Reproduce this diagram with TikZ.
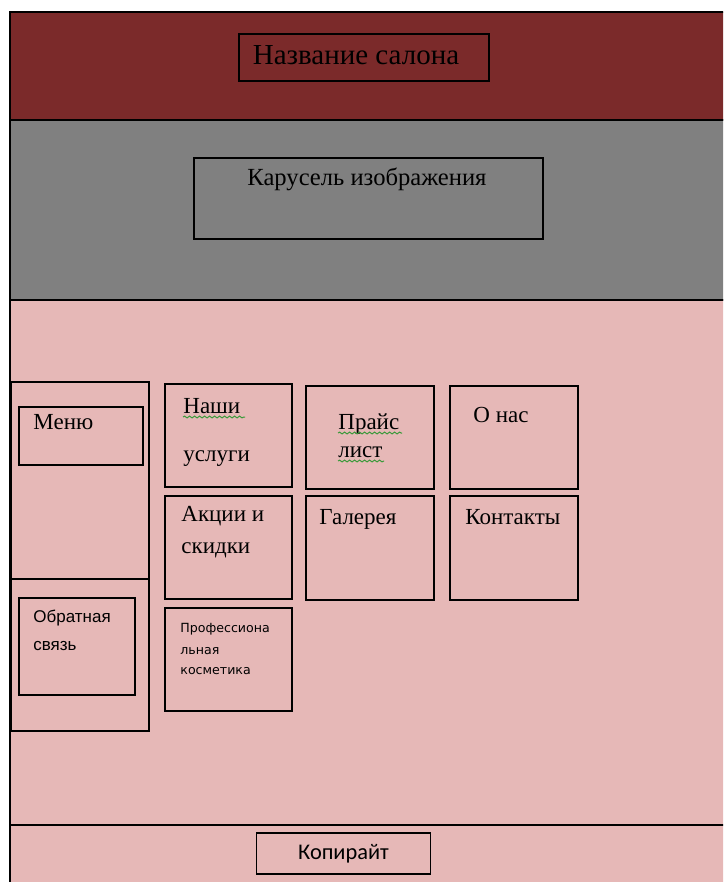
\documentclass[tikz,border=0pt]{standalone}
\usepackage{fontspec}
\setmainfont{Liberation Serif}
\newfontfamily\plainsans{Liberation Sans}
\newfontfamily\footsans{Carlito}
\newfontfamily\tinysans{DejaVu Sans}
\usepackage{tikz}
\usetikzlibrary{positioning,decorations.pathmorphing}
\definecolor{header}{HTML}{7B2A2A}
\definecolor{carousel}{HTML}{808080}
\definecolor{page}{HTML}{E6B8B7}
\definecolor{spell}{HTML}{3A9A3A}

\begin{document}
\begin{tikzpicture}[
    x=0.5pt, y=-0.5pt,
    font=\fontsize{11.5}{13}\selectfont,
    box/.style={draw, line width=0.9pt, minimum width=63.5pt, minimum height=51.5pt, anchor=north west, inner sep=0pt},
    txt/.style={anchor=base west, inner sep=0pt},
    band/.style={draw, line width=0.8pt},
    squiggle/.style={spell, line width=0.5pt, decorate, decoration={snake, amplitude=0.45pt, segment length=2.5pt}}
]
    \useasboundingbox (0,0) rectangle (723,882);
    \clip (0,0) rectangle (723,882);

    % Bands
    \fill[white] (0,0) rectangle (723,882);
    \draw[band, fill=page] (10,300) rectangle (740,900);
    \draw[band, fill=header] (10,12) rectangle (740,120);
    \draw[band, fill=carousel] (10,120) rectangle (740,300);
    \draw[band] (10,825) -- (740,825);

    % Header
    \node[box, minimum width=125pt, minimum height=23.5pt] (title) at (238,33) {};
    \node[txt, anchor=base, font=\fontsize{14.5}{16}\selectfont] (titletext) at (356,65) {Название салона};
    \node[box, minimum width=174.5pt, minimum height=40.5pt] (slider) at (193,157) {};
    \node[txt, anchor=base, font=\fontsize{12.3}{15}\selectfont] (slidertext) at (367,185) {Карусель изображения};

    % Left column
    \node[box, minimum width=69pt, minimum height=98.5pt] (menucol) at (10,381) {};
    \node[box, minimum width=69pt, minimum height=76pt] (feedcol) at (10,578) {};
    \node[box, minimum width=62pt, minimum height=29pt] (menu) at (18,406) {};
    \node[box, minimum width=58pt, minimum height=48.5pt] (feedback) at (18,597) {};
    \node[txt] (menutext) at (33,429) {Меню};
    \node[txt, font=\plainsans\fontsize{8.5}{10}\selectfont] (feedtext1) at (33,622) {Обратная};
    \node[txt, font=\plainsans\fontsize{8.5}{10}\selectfont] (feedtext2) at (33,650) {связь};

    % Grid of sections
    \node[box] (services) at (164,383) {};
    \node[box] (promo) at (164,495) {};
    \node[box] (cosmetics) at (164,607) {};
    \node[box, minimum width=64pt] (price) at (305,385) {};
    \node[box, minimum width=64pt, minimum height=52pt] (gallery) at (305,495) {};
    \node[box, minimum width=64pt] (about) at (449,385) {};
    \node[box, minimum width=64pt, minimum height=52pt] (contacts) at (449,495) {};

    \node[txt] (servtext1) at (183,413) {Наши};
    \node[txt] (servtext2) at (183,461) {услуги};
    \node[txt] (promotext1) at (181,521) {Акции и};
    \node[txt] (promotext2) at (181,553) {скидки};
    \node[txt, font=\tinysans\fontsize{6.3}{8}\selectfont] (cosmtext1) at (180,632) {Профессиона};
    \node[txt, font=\tinysans\fontsize{6.3}{8}\selectfont] (cosmtext2) at (180,654) {льная};
    \node[txt, font=\tinysans\fontsize{6.3}{8}\selectfont] (cosmtext3) at (180,674) {косметика};
    \node[txt] (pricetext1) at (338,429) {Прайс};
    \node[txt] (pricetext2) at (338,457) {лист};
    \node[txt] (galltext) at (319,524) {Галерея};
    \node[txt] (abouttext) at (473,422) {О нас};
    \node[txt] (conttext) at (465,524) {Контакты};

    % Spelling marks
    \draw[squiggle] (servtext1.base west) ++(0,4) -- ++(62,0);
    \draw[squiggle] (pricetext1.base west) ++(0,4) -- ++(64,0);
    \draw[squiggle] (pricetext2.base west) ++(0,4) -- ++(46,0);

    % Footer
    \node[box, anchor=center, minimum width=87pt, minimum height=20.5pt, font=\footsans\fontsize{11.2}{12}\selectfont] (copyright) at (343.5,853.5) {Копирайт};
\end{tikzpicture}
\end{document}
